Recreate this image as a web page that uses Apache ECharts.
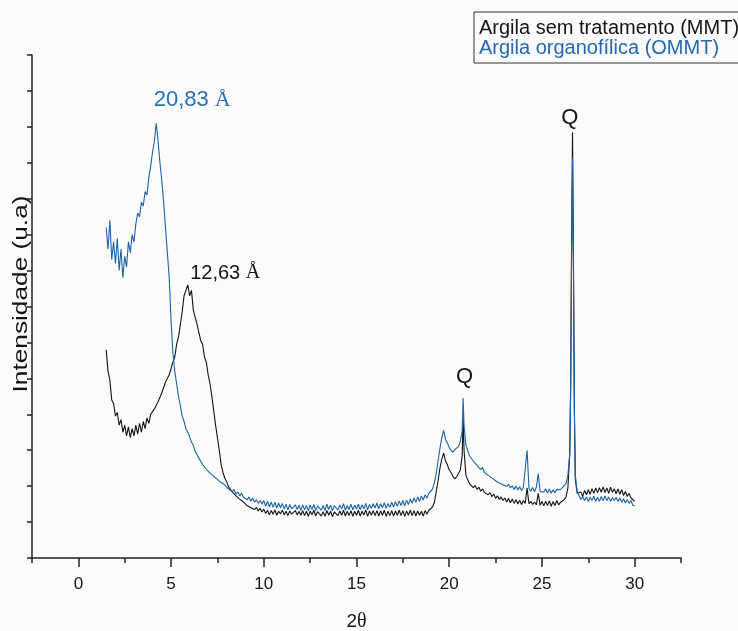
<!DOCTYPE html>
<html>
<head>
<meta charset="utf-8">
<script src="https://cdn.jsdelivr.net/npm/echarts@6/dist/echarts.min.js"></script>
<style>
  html, body { margin: 0; padding: 0; background: #fbfbfb; }
  #chart { width: 738px; height: 631px; }
</style>
</head>
<body>
<div id="chart"></div>
<script>
// Diffraction angle 2θ (degrees), shared by both patterns
const theta = [
  1.5,1.6,1.7,1.8,1.9,
  2.0,2.1,2.2,2.3,2.4,2.5,2.6,2.7,2.8,2.9,
  3.0,3.1,3.2,3.3,3.4,3.5,3.6,3.7,3.8,3.9,
  4.0,4.1,4.2,4.3,4.4,4.5,4.6,4.7,4.8,4.9,
  5.0,5.1,5.2,5.3,5.4,5.5,5.6,5.7,5.8,5.9,
  6.0,6.1,6.2,6.3,6.4,6.5,6.6,6.7,6.8,6.9,
  7.0,7.1,7.2,7.3,7.4,7.5,7.6,7.7,7.8,7.9,
  8.0,8.1,8.2,8.3,8.4,8.5,8.6,8.7,8.8,8.9,
  9.0,9.1,9.2,9.3,9.4,9.5,9.6,9.7,9.8,9.9,
  10.0,10.1,10.2,10.3,10.4,10.5,10.6,10.7,10.8,10.9,
  11.0,11.1,11.2,11.3,11.4,11.5,11.6,11.7,11.8,11.9,
  12.0,12.1,12.2,12.3,12.4,12.5,12.6,12.7,12.8,12.9,
  13.0,13.1,13.2,13.3,13.4,13.5,13.6,13.7,13.8,13.9,
  14.0,14.1,14.2,14.3,14.4,14.5,14.6,14.7,14.8,14.9,
  15.0,15.1,15.2,15.3,15.4,15.5,15.6,15.7,15.8,15.9,
  16.0,16.1,16.2,16.3,16.4,16.5,16.6,16.7,16.8,16.9,
  17.0,17.1,17.2,17.3,17.4,17.5,17.6,17.7,17.8,17.9,
  18.0,18.1,18.2,18.3,18.4,18.5,18.6,18.7,18.8,18.9,
  19.0,19.1,19.2,19.3,19.4,19.5,19.6,19.7,19.8,19.9,
  20.0,20.1,20.2,20.3,20.4,20.5,20.6,20.7,20.75,20.8,20.9,
  21.0,21.1,21.2,21.3,21.4,21.5,21.6,21.7,21.8,21.9,
  22.0,22.1,22.2,22.3,22.4,22.5,22.6,22.7,22.8,22.9,
  23.0,23.1,23.2,23.3,23.4,23.5,23.6,23.7,23.8,23.9,
  24.0,24.1,24.2,24.3,24.4,24.5,24.6,24.7,24.8,24.9,
  25.0,25.1,25.2,25.3,25.4,25.5,25.6,25.7,25.8,25.9,
  26.0,26.1,26.2,26.3,26.4,26.5,26.55,26.6,26.65,26.7,26.75,26.8,26.9,
  27.0,27.1,27.2,27.3,27.4,27.5,27.6,27.7,27.8,27.9,
  28.0,28.1,28.2,28.3,28.4,28.5,28.6,28.7,28.8,28.9,
  29.0,29.1,29.2,29.3,29.4,29.5,29.6,29.7,29.8,29.9,
  30.0
];

// Untreated clay (MMT), intensity in arbitrary units
const mmt = [
  5.8,5.2,4.95,4.4,4.3,
  3.95,4.05,3.7,3.85,3.5,3.7,3.4,3.65,3.35,3.6,
  3.4,3.7,3.45,3.75,3.5,3.8,3.6,3.9,3.75,4.0,
  3.95,4.15,4.1,4.35,4.4,4.6,4.65,4.9,4.95,5.1,
  5.15,5.45,5.6,5.95,6.15,6.5,6.85,7.3,7.35,7.6,
  7.3,7.45,6.9,6.95,6.5,6.45,6.05,5.95,5.6,5.45,
  5.1,4.85,4.5,4.1,3.7,3.35,3.0,2.6,2.38,2.22,
  2.12,1.98,1.95,1.84,1.82,1.73,1.72,1.64,1.65,1.56,
  1.57,1.46,1.51,1.4,1.45,1.35,1.41,1.31,1.38,1.28,
  1.36,1.24,1.33,1.2,1.32,1.22,1.34,1.19,1.3,1.23,
  1.33,1.2,1.3,1.18,1.31,1.22,1.17,1.32,1.2,1.3,
  1.19,1.32,1.18,1.3,1.16,1.31,1.2,1.33,1.17,1.29,
  1.31,1.17,1.29,1.16,1.32,1.19,1.3,1.15,1.28,1.32,
  1.18,1.31,1.19,1.33,1.17,1.3,1.18,1.32,1.16,1.3,
  1.19,1.33,1.17,1.3,1.2,1.34,1.16,1.31,1.19,1.32,
  1.18,1.32,1.17,1.31,1.19,1.33,1.16,1.3,1.18,1.32,
  1.17,1.31,1.19,1.33,1.18,1.32,1.16,1.31,1.19,1.33,
  1.18,1.32,1.17,1.31,1.19,1.3,1.17,1.32,1.22,1.33,
  1.33,1.42,1.55,1.85,2.15,2.5,2.75,2.92,2.7,2.6,
  2.45,2.38,2.28,2.2,2.26,2.3,2.45,2.85,3.9,3.0,2.3,
  2.18,2.06,2.09,1.96,2.02,1.91,1.97,1.86,1.92,1.82,
  1.86,1.76,1.82,1.71,1.78,1.66,1.73,1.63,1.7,1.6,
  1.67,1.56,1.66,1.54,1.64,1.52,1.62,1.5,1.61,1.49,
  1.6,1.52,1.95,1.51,1.58,1.49,1.56,1.48,1.8,1.47,
  1.57,1.45,1.58,1.46,1.59,1.44,1.57,1.46,1.6,1.48,
  1.55,1.6,1.62,1.7,1.95,2.9,4.9,8.9,11.85,8.4,4.2,2.2,1.8,
  1.75,1.84,1.72,1.88,1.76,1.9,1.77,1.93,1.8,1.95,
  1.82,1.96,1.83,1.98,1.82,1.95,1.8,1.97,1.83,1.93,
  1.79,1.92,1.77,1.9,1.74,1.85,1.71,1.8,1.67,1.66,
  1.58
];

// Organophilic clay (OMMT), intensity in arbitrary units
const ommt = [
  9.2,8.6,9.4,8.3,8.8,
  8.2,8.9,8.0,8.6,7.8,8.4,8.1,8.8,8.5,9.0,
  8.8,9.3,9.6,9.5,9.9,9.8,10.2,10.1,10.6,10.9,
  11.3,11.6,12.1,11.6,11.0,10.5,9.9,9.2,8.5,7.8,
  6.6,5.7,5.2,4.85,4.5,4.25,3.95,3.8,3.6,3.5,
  3.38,3.22,3.14,2.97,2.92,2.78,2.75,2.6,2.58,2.47,
  2.46,2.36,2.39,2.27,2.3,2.19,2.2,2.1,2.13,2.03,
  2.04,1.92,1.97,1.85,1.91,1.78,1.84,1.73,1.8,1.69,
  1.74,1.62,1.7,1.58,1.66,1.55,1.63,1.52,1.6,1.5,
  1.6,1.44,1.58,1.42,1.56,1.41,1.55,1.39,1.53,1.4,
  1.52,1.36,1.5,1.34,1.49,1.37,1.32,1.48,1.35,1.47,
  1.33,1.48,1.34,1.46,1.31,1.47,1.35,1.49,1.32,1.45,
  1.48,1.33,1.46,1.32,1.5,1.35,1.47,1.31,1.45,1.49,
  1.34,1.48,1.36,1.51,1.33,1.46,1.35,1.5,1.34,1.47,
  1.36,1.5,1.35,1.48,1.37,1.52,1.34,1.49,1.38,1.51,
  1.39,1.53,1.37,1.51,1.4,1.54,1.38,1.52,1.41,1.55,
  1.42,1.57,1.44,1.59,1.46,1.6,1.45,1.61,1.49,1.64,
  1.52,1.67,1.55,1.7,1.58,1.73,1.61,1.76,1.66,1.8,
  1.8,1.92,2.1,2.35,2.7,3.05,3.35,3.55,3.3,3.2,
  3.08,3.0,2.94,3.02,2.98,3.1,3.25,3.55,4.45,3.7,3.15,
  2.99,2.84,2.86,2.7,2.74,2.58,2.63,2.46,2.52,2.38,
  2.42,2.3,2.34,2.23,2.26,2.15,2.2,2.09,2.14,2.04,
  2.09,1.99,2.05,1.95,2.01,1.91,2.0,1.89,1.98,1.88,
  1.97,1.98,3.0,1.94,1.86,1.96,1.84,1.97,2.35,1.86,
  1.91,1.83,1.93,1.81,1.92,1.8,1.9,1.82,1.91,1.86,
  1.9,1.96,2.0,2.08,2.3,2.9,4.6,8.4,11.15,7.9,4.0,2.3,1.85,
  1.74,1.63,1.72,1.59,1.7,1.57,1.69,1.6,1.72,1.58,
  1.69,1.57,1.71,1.59,1.73,1.6,1.7,1.57,1.68,1.6,
  1.69,1.57,1.67,1.55,1.65,1.53,1.63,1.52,1.6,1.47,
  1.45
];

const seriesNames = ['Argila sem tratamento (MMT)', 'Argila organofílica (OMMT)'];
const majorTicks = [0, 5, 10, 15, 20, 25, 30];
const minorTicks = [-2.5, 2.5, 7.5, 12.5, 17.5, 22.5, 27.5, 32.5];
const yTicks = [0,1,2,3,4,5,6,7,8,9,10,11,12,13,14];

const SANS = '"Liberation Sans", Arial, sans-serif';
const SERIF = '"Liberation Serif", "Times New Roman", serif';
const INK = '#141414';
const BLUE = '#1f62a6';

const chart = echarts.init(document.getElementById('chart'));

function peakLabel(coord, rich, text) {
  return { coord: coord, label: { formatter: text, rich: rich } };
}

const labelRichBlue = {
  n: { fontFamily: SANS, fontSize: 22, color: '#2a6fb3' },
  a: { fontFamily: SERIF, fontSize: 22, color: '#2a6fb3' }
};
const labelRichBlack = {
  n: { fontFamily: SANS, fontSize: 20, color: INK },
  a: { fontFamily: SERIF, fontSize: 20, color: INK }
};
const labelRichQ = {
  n: { fontFamily: SANS, fontSize: 22, color: INK }
};

chart.setOption({
  backgroundColor: '#fbfbfb',
  animation: false,
  grid: { left: 32, right: 57, top: 55, bottom: 73, containLabel: false, outerBoundsMode: 'none' },
  legend: {
    orient: 'vertical',
    left: 474, top: 12,
    icon: 'none',
    itemWidth: 0, itemHeight: 20, itemGap: 0,
    padding: [6, 8, 5, 0],
    borderColor: '#333', borderWidth: 1,
    selectedMode: false,
    textStyle: { fontFamily: SANS, fontSize: 20 },
    data: [
      { name: seriesNames[0], textStyle: { color: INK } },
      { name: seriesNames[1], textStyle: { color: '#2468ad' } }
    ]
  },
  xAxis: [
    {
      type: 'value', position: 'bottom',
      min: -2.5, max: 32.5,
      name: '{a|2}{b|θ}', nameLocation: 'middle', nameGap: 54,
      nameTextStyle: {
        rich: {
          a: { fontFamily: SANS, fontSize: 19, color: INK },
          b: { fontFamily: SERIF, fontSize: 20, color: INK }
        }
      },
      axisLine: { show: true, onZero: false, lineStyle: { color: '#222', width: 1.5 } },
      axisTick: { show: true, customValues: majorTicks, length: 9, lineStyle: { color: '#222', width: 1.5 } },
      axisLabel: { show: true, customValues: majorTicks, margin: 18, fontFamily: SANS, fontSize: 17, color: INK },
      splitLine: { show: false }
    },
    {
      type: 'value', position: 'bottom', offset: 0,
      min: -2.5, max: 32.5,
      axisLine: { show: false, onZero: false },
      axisTick: { show: true, customValues: minorTicks, length: 5, lineStyle: { color: '#222', width: 1.5 } },
      axisLabel: { show: false },
      splitLine: { show: false }
    }
  ],
  yAxis: {
    type: 'value', position: 'left',
    min: 0, max: 14,
    axisLine: { show: true, onZero: false, lineStyle: { color: '#222', width: 1.5 } },
    axisTick: { show: true, customValues: yTicks, length: 5, lineStyle: { color: '#222', width: 1.5 } },
    axisLabel: { show: false },
    splitLine: { show: false }
  },
  graphic: [
    {
      type: 'text',
      x: 21, y: 294,
      rotation: Math.PI / 2,
      scaleX: 1.25,
      style: {
        text: 'Intensidade (u.a)',
        fontFamily: SANS, fontSize: 21,
        fill: INK,
        align: 'center', verticalAlign: 'middle'
      }
    }
  ],
  series: [
    {
      name: seriesNames[0],
      type: 'line',
      xAxisIndex: 0,
      data: theta.map((t, i) => [t, mmt[i]]),
      showSymbol: false,
      symbol: 'none',
      lineStyle: { color: INK, width: 1.1 },
      itemStyle: { color: INK },
      z: 2,
      markPoint: {
        symbol: 'circle', symbolSize: 0, silent: true,
        label: { show: true, position: 'inside' },
        data: [
          peakLabel([7.92, 7.93], labelRichBlack, '{n|12,63 }{a|Å}'),
          peakLabel([20.83, 5.04], labelRichQ, '{n|Q}'),
          peakLabel([26.5, 12.25], labelRichQ, '{n|Q}')
        ]
      }
    },
    {
      name: seriesNames[1],
      type: 'line',
      xAxisIndex: 0,
      data: theta.map((t, i) => [t, ommt[i]]),
      showSymbol: false,
      symbol: 'none',
      lineStyle: { color: BLUE, width: 1.1 },
      itemStyle: { color: BLUE },
      z: 3,
      markPoint: {
        symbol: 'circle', symbolSize: 0, silent: true,
        label: { show: true, position: 'inside' },
        data: [
          peakLabel([6.14, 12.75], labelRichBlue, '{n|20,83 }{a|Å}')
        ]
      }
    }
  ]
});
</script>
</body>
</html>
